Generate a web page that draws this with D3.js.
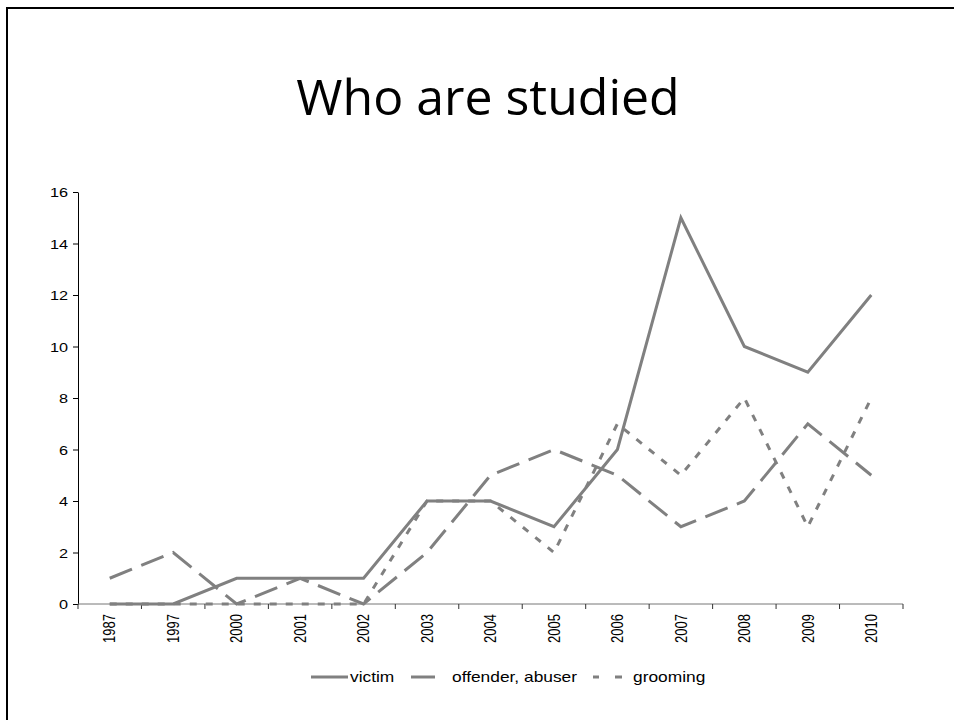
<!DOCTYPE html>
<html>
<head>
<meta charset="utf-8">
<script src="https://cdn.jsdelivr.net/npm/d3@7"></script>
<style>
  html, body { margin: 0; padding: 0; background: #fff; }
  svg { display: block; }
</style>
</head>
<body>
<svg id="chart" width="954" height="720"></svg>
<script>
const categories = ["1987","1997","2000","2001","2002","2003","2004","2005","2006","2007","2008","2009","2010"];
const victim   = [0,0,1,1,1,4,4,3,6,15,10,9,12];
const offender = [1,2,0,1,0,2,5,6,5,3,4,7,5];
const grooming = [0,0,0,0,0,4,4,2,7,5,8,3,8];
const yTicks = [0,2,4,6,8,10,12,14,16];
const seriesNames = ["victim","offender, abuser","grooming"];
const titleText = "Who are studied";

const svg = d3.select("#chart");
const lineColor = "#808080";
const dashes = ["none", "24,10", "7,9"];

// slide frame
svg.append("rect").attr("x", 7).attr("y", 8).attr("width", 960).attr("height", 730)
  .attr("fill", "none").attr("stroke", "#000").attr("stroke-width", 2);

// title
svg.append("text").attr("x", 488).attr("y", 115).attr("text-anchor", "middle")
  .attr("font-family", "'Open Sans', sans-serif").attr("font-size", 50).attr("fill", "#000")
  .text(titleText);

const x = d3.scaleBand().domain(categories).range([78, 903]).padding(0);
const y = d3.scaleLinear().domain([0, 16]).range([604, 192]);
const cx = c => x(c) + x.bandwidth() / 2;

// y axis
const yAxis = svg.append("g").attr("transform", "translate(78,0)")
  .call(d3.axisLeft(y).tickValues(yTicks).tickSize(5).tickSizeOuter(0));
yAxis.select(".domain").attr("stroke", "#000");
yAxis.selectAll(".tick line").attr("stroke", "#000");
yAxis.selectAll(".tick text")
  .attr("x", null).attr("dy", "0.35em")
  .attr("transform", "translate(-10,0) scale(1.25,1)")
  .attr("font-family", "'Liberation Sans', Arial, sans-serif").attr("font-size", 13).attr("fill", "#000");

// x axis (ticks on band boundaries)
const xg = svg.append("g");
xg.append("line").attr("x1", 78).attr("x2", 903).attr("y1", y(0)).attr("y2", y(0))
  .attr("stroke", "#777").attr("stroke-width", 1);
const bounds = categories.map(c => x(c)).concat([x.range()[1]]);
xg.selectAll("line.tk").data(bounds).join("line").attr("class", "tk")
  .attr("x1", d => d).attr("x2", d => d).attr("y1", y(0)).attr("y2", y(0) + 5)
  .attr("stroke", "#333");
xg.selectAll("text.xl").data(categories).join("text").attr("class", "xl")
  .attr("transform", d => `translate(${cx(d)},614) scale(1.25,1) rotate(-90)`)
  .attr("text-anchor", "end").attr("dy", "0.35em")
  .attr("font-family", "'Liberation Sans', Arial, sans-serif").attr("font-size", 13).attr("fill", "#000")
  .text(d => d);

// lines
const line = d3.line().x((d, i) => cx(categories[i])).y(d => y(d));
[victim, offender, grooming].forEach((s, k) => {
  svg.append("path").datum(s).attr("d", line)
    .attr("fill", "none").attr("stroke", lineColor).attr("stroke-width", 3)
    .attr("stroke-dasharray", dashes[k]).attr("stroke-linejoin", "miter");
});

// legend
const lg = svg.append("g");
const ly = 677;
const legendItems = [
  { x1: 311, x2: 348, dash: "none", tx: 350 },
  { x1: 411, x2: 435, dash: "none", tx: 452 },
  { x1: 593, x2: 622, dash: "6,16,7", tx: 633 }
];
legendItems.forEach((it, k) => {
  lg.append("line").attr("x1", it.x1).attr("x2", it.x2).attr("y1", ly).attr("y2", ly)
    .attr("stroke", lineColor).attr("stroke-width", 3).attr("stroke-dasharray", it.dash);
  lg.append("text").attr("transform", `translate(${it.tx},${ly}) scale(1.24,1)`)
    .attr("dy", "0.35em")
    .attr("font-family", "'Liberation Sans', Arial, sans-serif").attr("font-size", 14).attr("fill", "#000")
    .text(seriesNames[k]);
});
</script>
</body>
</html>
